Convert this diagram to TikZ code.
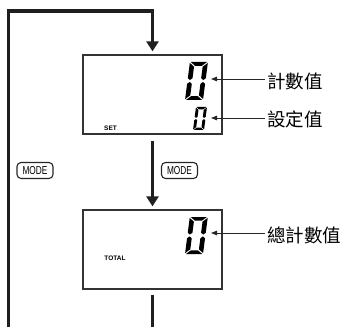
\documentclass[tikz,border=0pt]{standalone}
\usepackage{fontspec}
\setmainfont{Liberation Sans}
\newfontfamily\cjk{Noto Sans CJK TC}
\newfontfamily\narrowfont[FakeStretch=0.72]{Liberation Sans}
\usetikzlibrary{arrows.meta}
\newcommand{\segzero}[4]{%
  \begin{scope}[shift={(#1pt,#2pt)}, x=#3pt, y=#4pt, xslant=0.13]
    \fill[black] (0.05,2) -- (0.95,2) -- (0.69,1.8) -- (0.31,1.8) -- cycle;
    \fill[black] (0.05,0) -- (0.95,0) -- (0.69,0.2) -- (0.31,0.2) -- cycle;
    \fill[black] (0,1.95) -- (0.26,1.75) -- (0.26,1.15) -- (0.13,1.05) -- (0,1.15) -- cycle;
    \fill[black] (0,0.05) -- (0.26,0.25) -- (0.26,0.85) -- (0.13,0.95) -- (0,0.85) -- cycle;
    \fill[black] (1,1.95) -- (0.74,1.75) -- (0.74,1.15) -- (0.87,1.05) -- (1,1.15) -- cycle;
    \fill[black] (1,0.05) -- (0.74,0.25) -- (0.74,0.85) -- (0.87,0.95) -- (1,0.85) -- cycle;
  \end{scope}}
\begin{document}
\begin{tikzpicture}[x=1pt,y=1pt,
  flow/.style={line width=3.2pt, black!88},
  flowhead/.style={-{Triangle[width=12pt,length=10pt]}},
  lcd/.style={draw=black!80, line width=1.3pt, minimum width=139pt, minimum height=79pt, inner sep=0pt},
  modebox/.style={draw=black!85, rounded corners=4pt, line width=1.1pt, minimum width=36pt, minimum height=16pt, inner sep=0pt, font=\narrowfont\fontsize{11.5}{11.5}\selectfont},
  tag/.style={inner sep=0pt, font=\fontsize{6.5}{6.5}\selectfont\bfseries},
  callout/.style={line width=0.9pt, black!85, -{Triangle[width=4.5pt,length=6pt]}},
  caption/.style={anchor=west, inner sep=0pt, font=\cjk\fontsize{18.5}{18.5}\selectfont}
]
\useasboundingbox (0,0) rectangle (345,327);
% displays
\node[lcd] (disp1) at (152.5,232.5) {};
\node[lcd] (disp2) at (152.5,77.5) {};
\node[tag] (set) at (110.5,199) {SET};
\node[tag] (total) at (115,69) {TOTAL};
% digits
\segzero{185}{227}{18}{19}
\segzero{193}{197}{11}{11.5}
\segzero{185}{73}{18}{18.5}
\coordinate (d1) at (211,248);
\coordinate (d2) at (211,209);
\coordinate (d3) at (211,94);
% captions
\node[caption] (c1) at (267,246) {計數值};
\node[caption] (c2) at (267,207.5) {設定值};
\node[caption] (c3) at (267,92) {總計數值};
\draw[callout] (265,248) -- (d1);
\draw[callout] (265,209) -- (d2);
\draw[callout] (265,94) -- (d3);
% mode buttons
\node[modebox] (mode1) at (35,156.5) {MODE};
\node[modebox] (mode2) at (179.5,156.5) {MODE};
% flow lines
\coordinate (bl) at (8.5,0);
\coordinate (bm) at (152.5,0);
\draw[flow, flowhead, shorten >=3pt] (bl) |- (152.5,316) -- (disp1.north);
\draw[flow, flowhead, shorten >=3pt, shorten <=6pt] (disp1.south) -- (disp2.north);
\draw[flow, shorten <=5pt] (disp2.south) -- (bm);
\end{tikzpicture}
\end{document}
